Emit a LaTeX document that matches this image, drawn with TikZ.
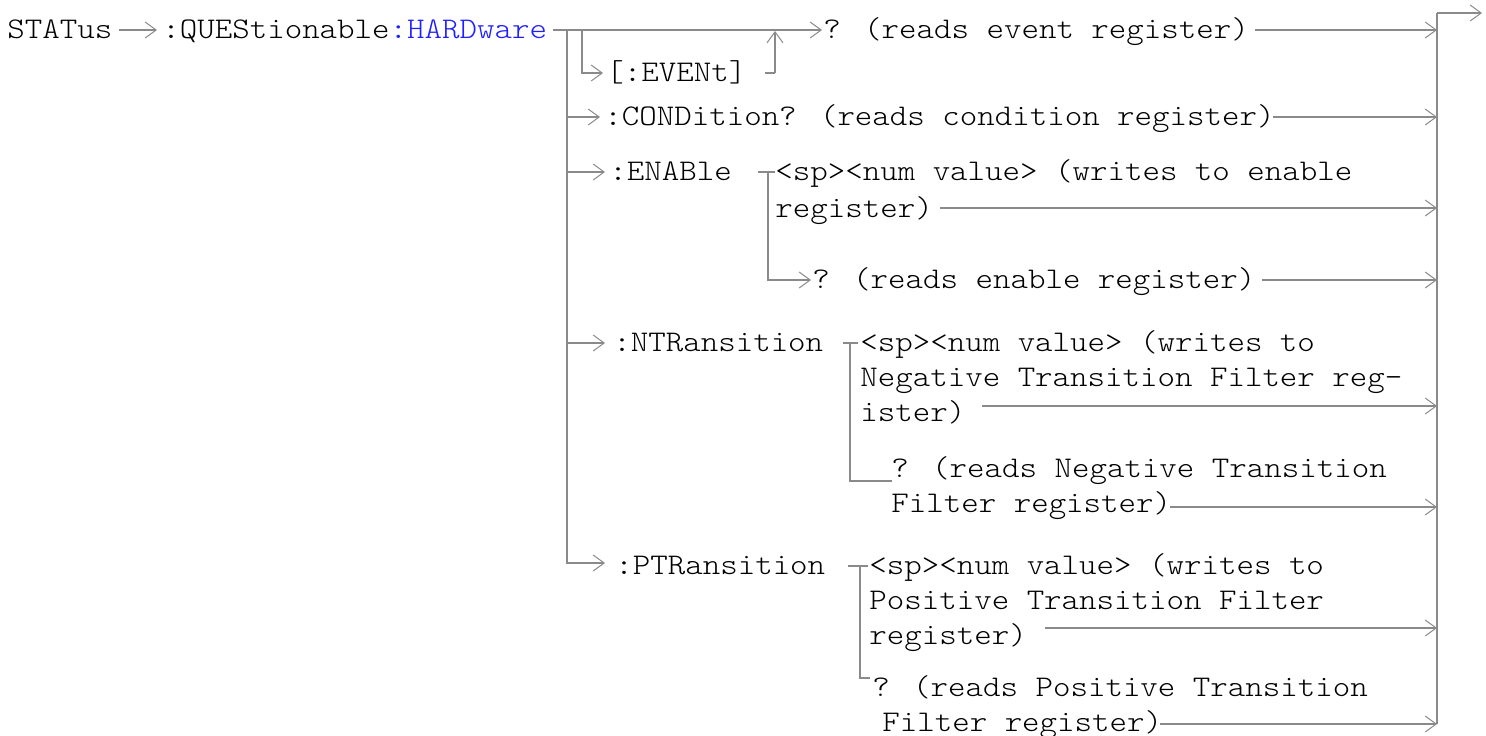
\documentclass[tikz,border=0pt]{standalone}
\usepackage{fontspec}
\newfontfamily\cour[FakeStretch=1.11]{Latin Modern Mono Light}
\usetikzlibrary{arrows.meta}
\definecolor{ln}{HTML}{8A8A8A}
\definecolor{hw}{HTML}{1F1FFF}
\tikzset{
  txt/.style={inner sep=0pt, anchor=base west, font=\fontsize{15pt}{17.5pt}\cour\selectfont, align=left},
  wire/.style={draw=ln, line width=0.9pt},
  arr/.style={wire, -{Straight Barb[length=5.5pt,width=8pt,line width=0.5pt]}},
}
\begin{document}
\begin{tikzpicture}[x=0.5pt,y=-0.5pt]
\useasboundingbox (0,0) rectangle (1486,735);
% text nodes (base = baseline of last line)
\node[txt] (stat) at (7,38) {STATus};
\node[txt] (ques) at (162,38) {:QUEStionable\textcolor{hw}{:HARDware}};
\node[txt] (evq) at (823,38) {? (reads event register)};
\node[txt] (evt) at (606,81) {[:EVENt]};
\node[txt] (cond) at (604,125) {:CONDition? (reads condition register)};
\node[txt] (enab) at (609,180) {:ENABle};
\node[txt] (enw) at (775,217) {<sp><num value> (writes to enable\\[1pt]register)};
\node[txt] (enq) at (812,288) {? (reads enable register)};
\node[txt] (ntr) at (613,351) {:NTRansition};
\node[txt] (ntw) at (860,421) {<sp><num value> (writes to\\Negative Transition Filter reg-\\ister)};
\node[txt] (ntq) at (891,512) {? (reads Negative Transition\\Filter register)};
\node[txt] (ptr) at (615,574) {:PTRansition};
\node[txt] (ptw) at (869,644) {<sp><num value> (writes to\\Positive Transition Filter\\register)};
\node[txt] (ptq) at (872,731) {? (reads Positive Transition\\\hspace*{5pt}Filter register)};
% junction coordinates
\coordinate (hwEnd) at (553,30);
\coordinate (busL) at (567,30);
\coordinate (busE) at (582,30);
\coordinate (evtOut) at (765,73);
\coordinate (evtUp) at (775,73);
\coordinate (enT0) at (758,172);
\coordinate (enT1) at (775,172);
\coordinate (enV) at (768,172);
\coordinate (ntT0) at (843,343);
\coordinate (ntT1) at (858,343);
\coordinate (ntV) at (850,343);
\coordinate (ptT0) at (848,566);
\coordinate (ptT1) at (868,566);
\coordinate (ptV) at (860,566);
\coordinate (busR) at (1437,13);
\coordinate (outEnd) at (1482,13);
% connectors
\draw[arr] (119,30) -- (157,30);
\draw[arr] (hwEnd) -- (822,30);
\draw[wire] (busE) |- (590,73);
\draw[arr] (590,73) -- (603,73);
\draw[wire] (evtOut) -- (evtUp);
\draw[arr] (evtUp) -- (775,31);
\draw[wire] (busL) -- (567,563) -- (590,563);
\draw[arr] (567,117) -- (600,117);
\draw[arr] (567,172) -- (605,172);
\draw[arr] (567,343) -- (605,343);
\draw[arr] (590,563) -- (605,563);
% ENABle
\draw[wire] (enT0) -- (enT1);
\draw[wire] (enV) |- (790,280);
\draw[arr] (790,280) -- (811,280);
% NTRansition
\draw[wire] (ntT0) -- (ntT1);
\draw[wire] (ntV) |- (892,481);
% PTRansition
\draw[wire] (ptT0) -- (ptT1);
\draw[wire] (ptV) |- (870,678);
% right bus
\draw[wire] (1437,724) -- (busR);
\draw[arr] (busR) -- (outEnd);
\draw[arr] (1255,30) -- (1437,30);
\draw[arr] (1273,117) -- (1437,117);
\draw[arr] (940,208) -- (1437,208);
\draw[arr] (1262,280) -- (1437,280);
\draw[arr] (982,406) -- (1437,406);
\draw[arr] (1170,507) -- (1437,507);
\draw[arr] (1045,628) -- (1437,628);
\draw[arr] (1160,724) -- (1437,724);
\end{tikzpicture}
\end{document}
